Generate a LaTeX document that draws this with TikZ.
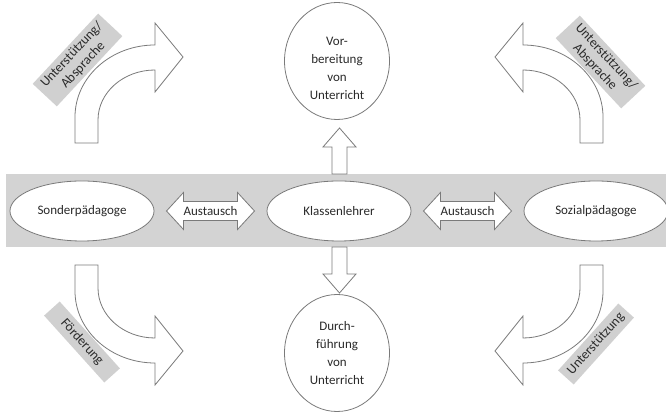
\documentclass[tikz,border=0pt]{standalone}
\usepackage{fontspec}
\setmainfont{Carlito}
\usetikzlibrary{shapes.geometric,calc}
\definecolor{bandc}{HTML}{D3D3D3}
\definecolor{labc}{HTML}{D0D0D0}
\definecolor{linec}{HTML}{7A7A7A}
\definecolor{txtc}{HTML}{2A2A2A}
\tikzset{
  outl/.style={draw=linec, line width=0.8pt, fill=white, line join=miter},
  oval/.style={ellipse, draw=linec, line width=0.8pt, fill=white, minimum width=144, minimum height=60, inner sep=0pt, text=txtc, font=\fontsize{13}{16}\selectfont},
  rund/.style={ellipse, draw=linec, line width=0.8pt, fill=white, minimum width=105, minimum height=117, inner sep=0pt},
  ctext/.style={align=center, text=txtc, font=\fontsize{13}{18}\selectfont, inner sep=0pt},
  atext/.style={text=txtc, font=\fontsize{13}{16}\selectfont, inner sep=0pt},
  labbox/.style={fill=labc, align=center, text=txtc, inner sep=1pt, font=\fontsize{13.5}{15.5}\selectfont},
  dblarrow/.pic={\draw[outl] (-44,0) -- (-27,18.5) -- (-27,9.5) -- (27,9.5) -- (27,18.5) -- (44,0) -- (27,-18.5) -- (27,-9.5) -- (-27,-9.5) -- (-27,-18.5) -- cycle;},
  uparrow/.pic={\draw[outl] (-7.5,0) -- (-7.5,27) -- (-16.5,27) -- (0,46) -- (16.5,27) -- (7.5,27) -- (7.5,0) -- cycle;}
}
\begin{document}
\begin{tikzpicture}[x=1pt,y=1pt]
\useasboundingbox (0,0) rectangle (666,414);
% band
\fill[bandc] (6,167) rectangle (666,240);
% ellipses
\node[oval] (sonder) at (82,203) {Sonderpädagoge};
\node[oval] (klassen) at (339,203) {Klassenlehrer};
\node[oval] (sozial) at (596,203) {Sozialpädagoge};
% exchange arrows
\pic at ($(sonder)!0.5!(klassen)$) {dblarrow};
\node[atext] (aus1) at ($(sonder)!0.5!(klassen)$) {Austausch};
\pic at ($(klassen)!0.5!(sozial)$) {dblarrow};
\node[atext] (aus2) at ($(klassen)!0.5!(sozial)$) {Austausch};
% circles
\node[rund] (vorb) at (337,353) {};
\node[ctext] (vorbt) at ($(vorb)+(0,-7)$) {Vor-\\bereitung\\von\\Unterricht};
\node[rund] (durch) at (337,61) {};
\node[ctext] (durcht) at (durch) {Durch-\\führung\\von\\Unterricht};
% vertical arrows
\pic at (339.5,240) {uparrow};
\pic[rotate=180] at (339.5,167) {uparrow};
% curved arrows
\draw[outl] (75,271) -- (75,297) arc[start angle=180,end angle=90,x radius=80,y radius=72]
  -- (155,391) -- (183,357) -- (155,322) -- (155,344)
  arc[start angle=90,end angle=180,x radius=57,y radius=50] -- (98,271) -- cycle;
\draw[outl] (603,271) -- (603,297) arc[start angle=0,end angle=90,x radius=80,y radius=72]
  -- (523,391) -- (495,357) -- (523,322) -- (523,344)
  arc[start angle=90,end angle=0,x radius=57,y radius=50] -- (580,271) -- cycle;
\draw[outl] (75,149) -- (75,123) arc[start angle=180,end angle=270,x radius=80,y radius=72]
  -- (155,29) -- (183,63) -- (155,98) -- (155,76)
  arc[start angle=270,end angle=180,x radius=57,y radius=50] -- (98,149) -- cycle;
\draw[outl] (603,149) -- (603,123) arc[start angle=0,end angle=-90,x radius=80,y radius=72]
  -- (523,29) -- (495,63) -- (523,98) -- (523,76)
  arc[start angle=-90,end angle=0,x radius=57,y radius=50] -- (580,149) -- cycle;
% labels
\node[labbox, rotate=47, minimum width=96, minimum height=33] (l1) at (77.5,354) {Unterstützung/\\Absprache};
\node[labbox, rotate=-47, minimum width=96, minimum height=33] (l2) at (600.5,352) {Unterstützung/\\Absprache};
\node[labbox, rotate=-48, minimum width=90, minimum height=21] (l3) at (82,72) {Förderung};
\node[labbox, rotate=48, minimum width=90, minimum height=21] (l4) at (596,70) {Unterstützung};
\end{tikzpicture}
\end{document}
